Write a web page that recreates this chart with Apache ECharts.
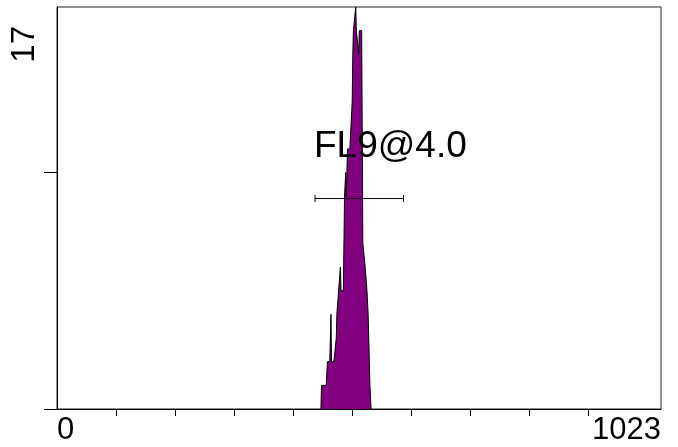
<!DOCTYPE html>
<html>
<head>
<meta charset="utf-8">
<script src="https://cdn.jsdelivr.net/npm/echarts@6/dist/echarts.min.js"></script>
<style>
  html, body { margin: 0; padding: 0; background: #fff; }
  #hist { width: 678px; height: 447px; }
</style>
</head>
<body>
<div id="hist"></div>
<script>
// FL9 histogram, counts per channel (0..1023)
var histStart = 447;
var histCounts = [
    0, 1, 1, 1, 1, 1, 1, 1, 1, 1,
    1, 2, 2, 2, 2, 2, 2, 4, 2, 2,
    2, 2, 2, 2, 2, 2, 3, 4, 4, 4,
    5, 5, 5, 6, 5, 5, 5, 5, 5, 5,
    9, 9, 10, 9, 9, 11, 11, 11, 11, 11,
    11, 11, 11, 13, 15, 16, 16, 16, 16, 17,
    16, 16, 16, 16, 15, 16, 16, 16, 16, 16,
    16, 7, 7, 7, 7, 6, 6, 6, 5, 5,
    4, 3, 2, 1, 1, 0
];
// marker FL9@4.0: range and height of the bar
var markerName = 'FL9@4.0';
var markerRange = [437, 587];
var markerLevel = 8.9;
// axis ticks and labels
var xTicks = [100, 200, 300, 400, 500, 600, 700, 800, 900];
var xLabels = [0, 1023];
var yTicks = [0, 10];
var yLabels = [17];

var chart = echarts.init(document.getElementById('hist'));

var histData = [];
for (var i = 0; i < histCounts.length; i++) {
    histData.push([histStart + i, histCounts[i]]);
}
var markerData = [[markerRange[0], markerLevel], [markerRange[1], markerLevel]];

var font = "'Liberation Sans', Arial, sans-serif";

var option = {
    animation: false,
    backgroundColor: '#fff',
    grid: {
        left: 57, top: 7, right: 17, bottom: 38,
        show: true,
        borderColor: '#222',
        borderWidth: 1
    },
    xAxis: {
        type: 'value',
        min: 0,
        max: 1023,
        interval: 100,
        splitLine: { show: false },
        axisLine: { show: true, lineStyle: { color: '#000', width: 1 } },
        axisTick: { show: true, customValues: xTicks, length: 7, lineStyle: { color: '#000' } },
        axisLabel: {
            customValues: xLabels,
            formatter: function (v) { return String(v); },
            color: '#000',
            fontFamily: font,
            fontSize: 31,
            margin: 6,
            alignMinLabel: 'left',
            alignMaxLabel: 'right'
        }
    },
    yAxis: {
        type: 'value',
        min: 0,
        max: 17,
        splitLine: { show: false },
        axisLine: { show: true, lineStyle: { color: '#000', width: 1 } },
        axisTick: { show: true, customValues: yTicks, length: 13, lineStyle: { color: '#000' } },
        axisLabel: {
            customValues: yLabels,
            formatter: function (v) { return String(v); },
            rotate: 90,
            align: 'right',
            verticalAlign: 'middle',
            padding: [0, 19, 0, 0],
            margin: 32,
            color: '#000',
            fontFamily: font,
            fontSize: 33
        }
    },
    series: [
        {
            name: 'FL9',
            type: 'line',
            data: histData,
            showSymbol: false,
            lineStyle: { color: '#000', width: 1 },
            areaStyle: { color: '#800080', opacity: 1 },
            z: 2
        },
        {
            name: markerName,
            type: 'line',
            data: markerData,
            symbol: 'rect',
            symbolSize: [1, 7],
            itemStyle: { color: '#000' },
            lineStyle: { color: '#000', width: 1 },
            z: 3
        }
    ],
    graphic: [{
        type: 'text',
        left: 314,
        top: 128,
        z: 10,
        style: {
            text: markerName,
            fill: '#000',
            font: '37px ' + font
        }
    }]
};

chart.setOption(option);
</script>
</body>
</html>
